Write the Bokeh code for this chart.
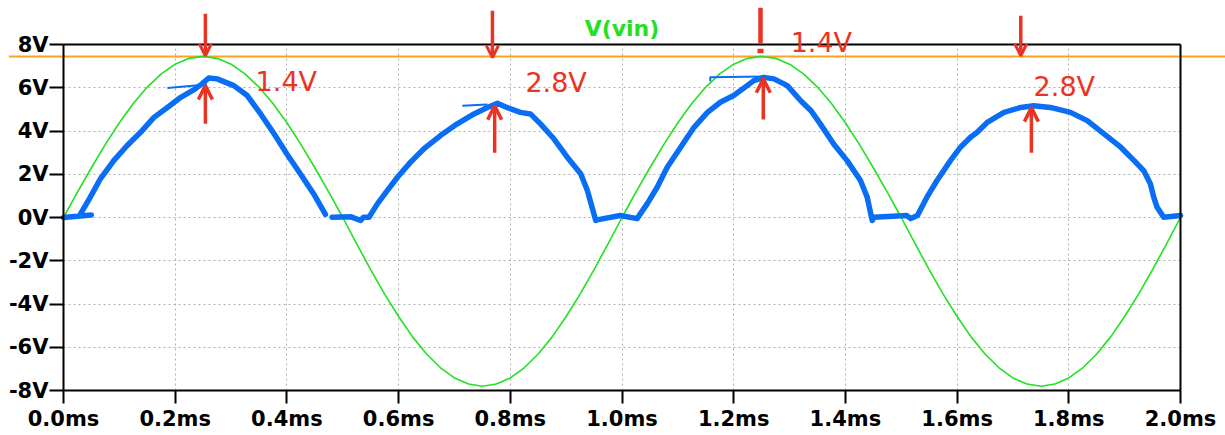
from bokeh.plotting import figure
from bokeh.models import (Arrow, OpenHead, Label, FixedTicker, Range1d, CustomJSTickFormatter,
                          LinearAxis)
from bokeh.embed import file_html
from bokeh.resources import INLINE

nan = float("nan")

# ---- axis ticks ----
x_ticks = [0.0, 0.2, 0.4, 0.6, 0.8, 1.0, 1.2, 1.4, 1.6, 1.8, 2.0]
x_tick_labels = ["0.0ms", "0.2ms", "0.4ms", "0.6ms", "0.8ms", "1.0ms",
                 "1.2ms", "1.4ms", "1.6ms", "1.8ms", "2.0ms"]
y_ticks = [-8, -6, -4, -2, 0, 2, 4, 6, 8]
y_tick_labels = ["-8V", "-6V", "-4V", "-2V", "0V", "2V", "4V", "6V", "8V"]
t_min, t_max = 0.0, 2.0
v_min, v_max = -8.0, 8.0

# ---- V(vin): sampled every 0.025 ms ----
vin_t = [i * 0.025 for i in range(81)]
vin_v = [0.0, 1.17, 2.30, 3.38, 4.38, 5.27, 6.03, 6.64, 7.09, 7.36, 7.45,
         7.36, 7.09, 6.64, 6.03, 5.27, 4.38, 3.38, 2.30, 1.17, 0.0,
         -1.22, -2.41, -3.54, -4.58, -5.52, -6.31, -6.95, -7.42, -7.70, -7.80,
         -7.70, -7.42, -6.95, -6.31, -5.52, -4.58, -3.54, -2.41, -1.22, 0.0,
         1.17, 2.30, 3.38, 4.38, 5.27, 6.03, 6.64, 7.09, 7.36, 7.45,
         7.36, 7.09, 6.64, 6.03, 5.27, 4.38, 3.38, 2.30, 1.17, 0.0,
         -1.22, -2.41, -3.54, -4.58, -5.52, -6.31, -6.95, -7.42, -7.70, -7.80,
         -7.70, -7.42, -6.95, -6.31, -5.52, -4.58, -3.54, -2.41, -1.22, 0.0]

# ---- hand-drawn output (thick blue strokes, NaN = pen lifted) ----
out_t = [0.0, 0.05, nan,
         0.030, 0.048, 0.066, 0.090, 0.114, 0.138, 0.162, 0.186, 0.210, 0.233, 0.248, 0.260,
         0.275, 0.305, 0.329, 0.353, 0.377, 0.400, 0.424, 0.448, 0.469, nan,
         0.481, 0.515, 0.532, 0.537, 0.547,
         0.562, 0.580, 0.598, 0.621, 0.645, 0.675, 0.705, 0.735, 0.759, 0.777,
         0.794, 0.818, 0.836, 0.854, 0.878, 0.902, 0.926, 0.938, 0.953,
         0.955, 0.997, 1.027,
         1.045, 1.063, 1.081, 1.105, 1.129, 1.153, 1.176, 1.200, 1.224, 1.236, 1.254,
         1.272, 1.296, 1.320, 1.338, 1.355, 1.379, 1.403, 1.427, 1.439, 1.448,
         1.451, 1.510, 1.517, 1.529,
         1.546, 1.564, 1.588, 1.606, 1.624, 1.636, 1.654, 1.684, 1.714, 1.737,
         1.767, 1.803, 1.833, 1.863, 1.893, 1.917, 1.934, 1.946, 1.952, 1.958, 1.970, 2.000]
out_v = [0.0, 0.12, nan,
         0.14, 0.94, 1.79, 2.63, 3.33, 3.94, 4.63, 5.09, 5.56, 5.90, 6.18, 6.45,
         6.41, 6.10, 5.64, 4.79, 3.87, 2.94, 2.02, 1.09, 0.14, nan,
         0.01, 0.03, -0.14, 0.01, 0.01,
         0.63, 1.25, 1.86, 2.55, 3.17, 3.79, 4.33, 4.79, 5.09, 5.28,
         5.09, 4.86, 4.79, 4.33, 3.64, 2.79, 2.02, 1.25, -0.14,
         -0.11, 0.09, -0.05,
         0.63, 1.40, 2.32, 3.25, 4.17, 4.86, 5.33, 5.64, 6.10, 6.33, 6.48,
         6.41, 6.10, 5.40, 4.95, 4.33, 3.40, 2.63, 1.71, 0.94, -0.14,
         0.01, 0.09, -0.05, 0.09,
         0.94, 1.71, 2.63, 3.25, 3.71, 3.94, 4.40, 4.86, 5.09, 5.17,
         5.09, 4.86, 4.48, 3.87, 3.25, 2.63, 2.17, 1.56, 0.94, 0.48, 0.01, 0.09]

# thin pen strokes near the peaks
thin_t = [[0.186, 0.257], [0.714, 0.759], [1.158, 1.158, 1.254]]
thin_v = [[5.99, 6.15], [5.17, 5.22], [6.30, 6.49, 6.52]]

# reference level (orange), drawn across the whole window
ref_t = [-0.098, 2.09]
ref_v = [7.45, 7.45]

# red annotations
down_t = [0.254, 0.768, 1.714]
down_top = [9.42, 9.56, 9.33]
down_tip = [7.48, 7.39, 7.48]
bang_t = 1.248
bang_top, bang_bot = 9.70, 8.05
up_t = [0.254, 0.772, 1.253, 1.733]
up_base = [4.34, 3.00, 4.53, 3.00]
up_tip = [6.10, 5.17, 6.42, 5.08]
note_text = ["1.4V", "2.8V", "1.4V", "2.8V"]
note_t = [0.344, 0.827, 1.302, 1.737]
note_v = [6.28, 6.26, 8.11, 6.08]

RED = "#ea3323"
GREEN = "#22e022"
BLUE = "#0a6ef5"
ORANGE = "#ffa31a"

# window: plot area 63..1180 px wide, 44..390 px high
PX_T = 1117 / 2.0      # px per ms
PX_V = 346 / 16.0      # px per V
p = figure(width=1225, height=435,
           x_range=Range1d(-63 / PX_T, 2.0 + 45 / PX_T),
           y_range=Range1d(-8.0 - 45 / PX_V, 8.0 + 44 / PX_V),
           output_backend="svg", toolbar_location=None, min_border=0)
p.background_fill_color = "white"
p.border_fill_color = "white"
p.outline_line_color = None

p.xaxis.ticker = FixedTicker(ticks=x_ticks)
p.yaxis.ticker = FixedTicker(ticks=y_ticks)
fmt_code = "const i = tvals.findIndex(t => Math.abs(t - tick) < 1e-9); return i >= 0 ? tlabels[i] : '';"
p.xaxis.formatter = CustomJSTickFormatter(args=dict(tvals=x_ticks, tlabels=x_tick_labels), code=fmt_code)
p.yaxis.formatter = CustomJSTickFormatter(args=dict(tvals=y_ticks, tlabels=y_tick_labels), code=fmt_code)
p.xaxis.fixed_location = v_min
p.yaxis.fixed_location = t_min
p.xaxis.bounds = (t_min, t_max)
p.yaxis.bounds = (v_min, v_max)

for ax in (p.xaxis[0], p.yaxis[0]):
    ax.axis_line_width = 2
    ax.axis_line_color = "black"
    ax.major_tick_line_width = 2
    ax.major_tick_line_color = "black"
    ax.minor_tick_line_color = None
    ax.major_tick_in = 0
    ax.major_label_text_font = "DejaVu Sans"
    ax.major_label_text_font_style = "bold"
    ax.major_label_text_font_size = "21px"
    ax.major_label_text_color = "black"
p.yaxis.major_tick_out = 14
p.yaxis.major_label_standoff = 1
p.xaxis.major_tick_out = 13
p.xaxis.major_label_standoff = 3

# frame edges on the right and top
right_ax = LinearAxis(fixed_location=t_max, bounds=(v_min, v_max), ticker=FixedTicker(ticks=[]),
                      axis_line_width=2, axis_line_color="black",
                      major_tick_line_color=None, minor_tick_line_color=None,
                      major_label_text_alpha=0)
top_ax = LinearAxis(fixed_location=v_max, bounds=(t_min, t_max), ticker=FixedTicker(ticks=[]),
                    axis_line_width=2, axis_line_color="black",
                    major_tick_line_color=None, minor_tick_line_color=None,
                    major_label_text_alpha=0)
p.add_layout(right_ax, "right")
p.add_layout(top_ax, "above")

for g in (p.xgrid[0], p.ygrid[0]):
    g.grid_line_color = "#b0b0b0"
    g.grid_line_dash = "2 3"
    g.grid_line_width = 1
p.xgrid.cross_bounds = (v_min, v_max)
p.ygrid.cross_bounds = (t_min, t_max)

# traces
p.line(ref_t, ref_v, line_color=ORANGE, line_width=2)
p.line(vin_t, vin_v, line_color=GREEN, line_width=1.6)
p.line(out_t, out_v, line_color=BLUE, line_width=5.5, line_join="round", line_cap="round")
p.multi_line(thin_t, thin_v, line_color=BLUE, line_width=2)

# red arrows
for t, y0, y1 in zip(down_t, down_top, down_tip):
    p.add_layout(Arrow(end=OpenHead(size=12, line_color=RED, line_width=3),
                       x_start=t, y_start=y0, x_end=t, y_end=y1,
                       line_color=RED, line_width=3.5))
p.add_layout(Arrow(end=None, x_start=bang_t, y_start=bang_top, x_end=bang_t, y_end=bang_bot,
                   line_color=RED, line_width=4.5))
p.add_layout(Arrow(end=None, x_start=bang_t, y_start=bang_bot - 0.25, x_end=bang_t, y_end=bang_bot - 0.45,
                   line_color=RED, line_width=6))
for t, y0, y1 in zip(up_t, up_base, up_tip):
    p.add_layout(Arrow(end=OpenHead(size=14, line_color=RED, line_width=3.5),
                       x_start=t, y_start=y0, x_end=t, y_end=y1,
                       line_color=RED, line_width=3.5))

for txt, t, v in zip(note_text, note_t, note_v):
    p.add_layout(Label(x=t, y=v, text=txt, text_color=RED, text_font="DejaVu Sans",
                       text_font_size="27px", text_baseline="alphabetic", text_align="left"))

# trace name
p.add_layout(Label(x=1.0, y=8.75, text="V(vin)", text_color=GREEN,
                   text_font="DejaVu Sans", text_font_style="bold", text_font_size="22px",
                   text_align="center", text_baseline="alphabetic"))

open("out.html", "w").write(file_html(p, INLINE))
